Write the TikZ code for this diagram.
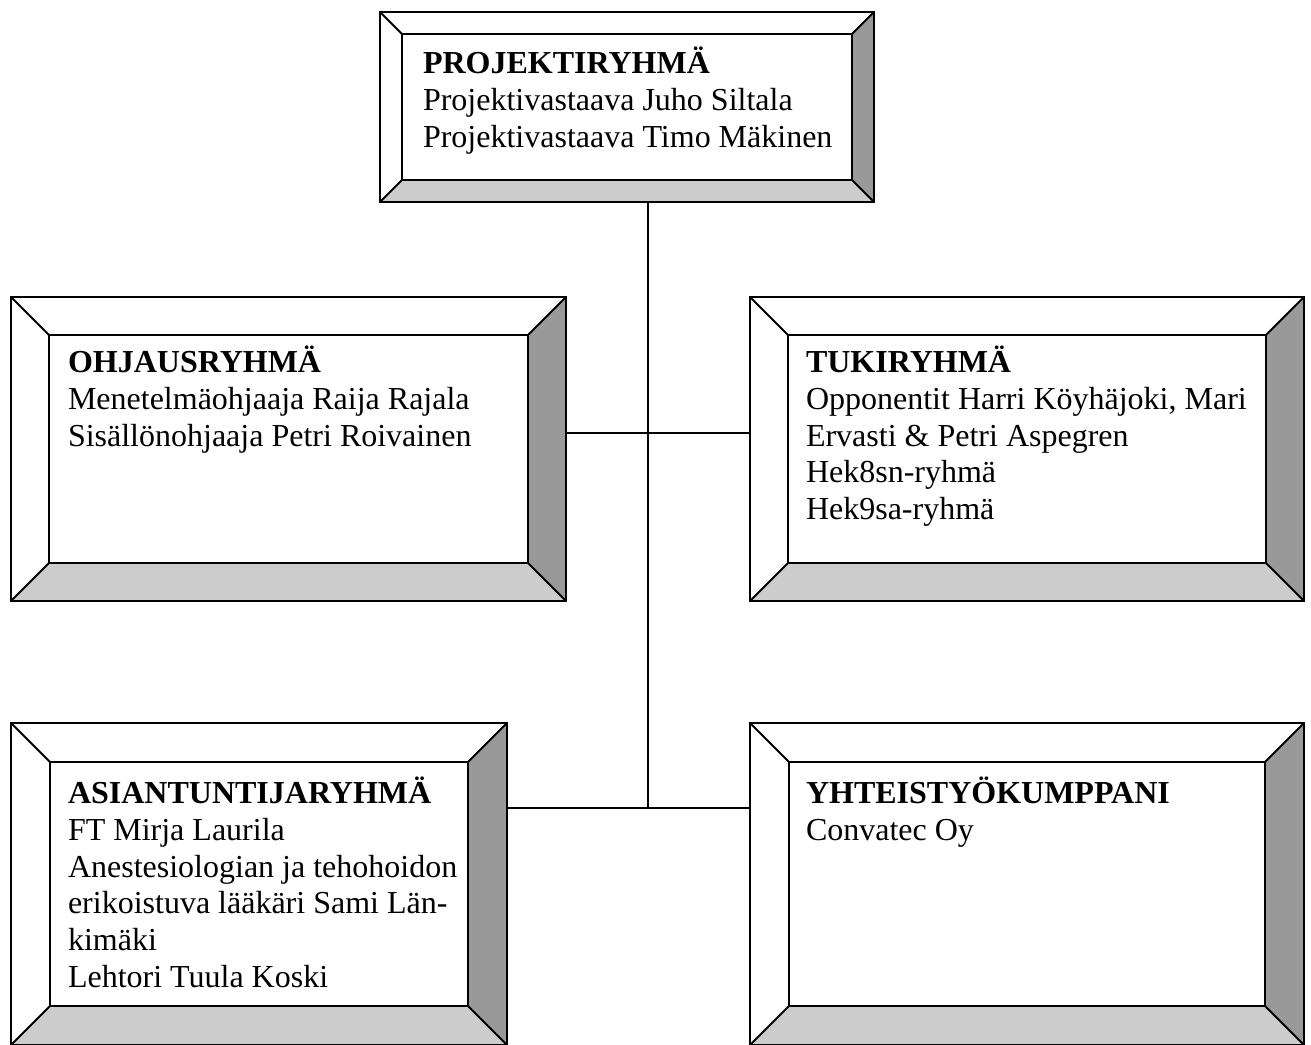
\documentclass[tikz,border=0pt]{standalone}
\usepackage{fontspec}
\setmainfont{Liberation Serif}
\usetikzlibrary{calc,fit}
\definecolor{bevdark}{HTML}{999999}
\definecolor{bevlight}{HTML}{CCCCCC}
\tikzset{
  boxframe/.style={inner sep=0pt, outer sep=0pt},
  bevline/.style={line width=1pt, line join=miter},
  link/.style={line width=0.8pt},
  boxtext/.style={anchor=base west, align=left, inner sep=0pt, outer sep=0pt,
    font=\fontsize{16pt}{18.4pt}\selectfont}
}
% #1 name, #2 x1, #3 y1, #4 x2, #5 y2, #6 bevel
\newcommand\bevelbox[6]{%
  \coordinate (#1-a) at (#2,#3);
  \coordinate (#1-b) at (#4,#5);
  \node[boxframe, fit=(#1-a)(#1-b)] (#1) {};
  \coordinate (#1-inw) at ($(#1.north west)+(#6,#6)$);
  \coordinate (#1-ine) at ($(#1.north east)+(-#6,#6)$);
  \coordinate (#1-ise) at ($(#1.south east)+(-#6,-#6)$);
  \coordinate (#1-isw) at ($(#1.south west)+(#6,-#6)$);
  \fill[bevdark] (#1.north east) -- (#1-ine) -- (#1-ise) -- (#1.south east) -- cycle;
  \fill[bevlight] (#1.south west) -- (#1-isw) -- (#1-ise) -- (#1.south east) -- cycle;
  \draw[bevline] (#1.north west) rectangle (#1.south east);
  \draw[bevline] (#1-inw) rectangle (#1-ise);
  \draw[bevline] (#1.north west) -- (#1-inw);
  \draw[bevline] (#1.north east) -- (#1-ine);
  \draw[bevline] (#1.south east) -- (#1-ise);
  \draw[bevline] (#1.south west) -- (#1-isw);
}
\begin{document}
\begin{tikzpicture}[x=0.5pt,y=-0.5pt]
\useasboundingbox (0,0) rectangle (1311,1044);
\fill[white] (0,0) rectangle (1311,1044);

\bevelbox{proj}{380}{12}{874}{202}{22}
\bevelbox{ohj}{11}{297}{566}{601}{38}
\bevelbox{tuki}{750}{297}{1304}{601}{38}
\bevelbox{asi}{11}{723}{507}{1045}{39}
\bevelbox{yht}{750}{723}{1304}{1045}{39}

% anchor = baseline of the last line
\node[boxtext] (projt) at (423,147.1) {\textbf{PROJEKTIRYHMÄ}\\Projektivastaava Juho Siltala\\Projektivastaava Timo Mäkinen};
\node[boxtext] (ohjt) at (68,446.1) {\textbf{OHJAUSRYHMÄ}\\Menetelmäohjaaja Raija Rajala\\Sisällönohjaaja Petri Roivainen};
\node[boxtext] (tukit) at (806,519.7) {\textbf{TUKIRYHMÄ}\\Opponentit Harri Köyhäjoki, Mari\\Ervasti \& Petri Aspegren\\Hek8sn-ryhmä\\Hek9sa-ryhmä};
\node[boxtext] (asit) at (68,987.5) {\textbf{ASIANTUNTIJARYHMÄ}\\FT Mirja Laurila\\Anestesiologian ja tehohoidon\\erikoistuva lääkäri Sami Län-\\kimäki\\Lehtori Tuula Koski};
\node[boxtext] (yhtt) at (806,840.3) {\textbf{YHTEISTYÖKUMPPANI}\\Convatec Oy};

\coordinate (j1) at (648,433);
\coordinate (j2) at (648,808);
\draw[link] (proj.south -| j1) -- (j2);
\draw[link] (ohj.east |- j1) -- (tuki.west |- j1);
\draw[link] (asi.east |- j2) -- (yht.west |- j2);
\end{tikzpicture}
\end{document}
